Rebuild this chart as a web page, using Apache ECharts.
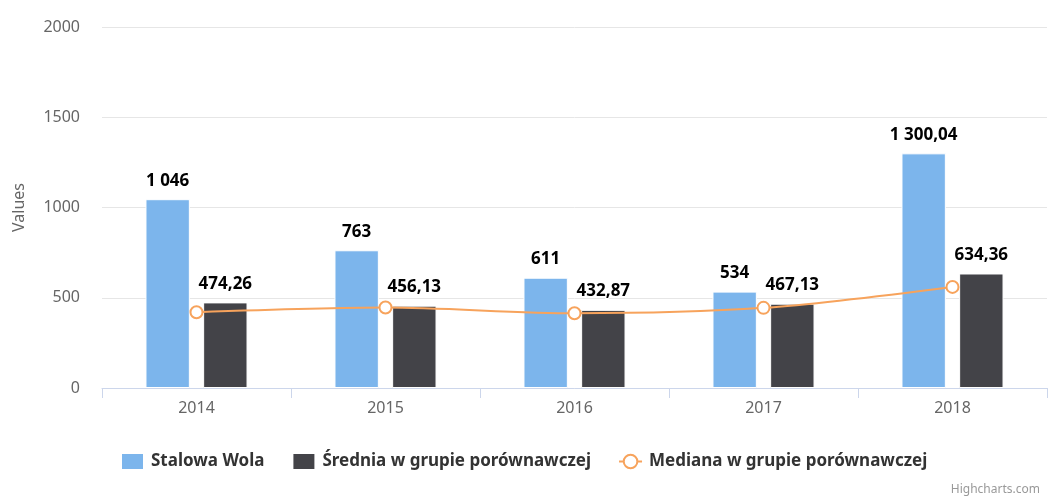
<!DOCTYPE html>
<html>
<head>
<meta charset="utf-8">
<script src="https://cdn.jsdelivr.net/npm/echarts@6/dist/echarts.min.js"></script>
<style>
  html, body { margin: 0; padding: 0; background: #fff; }
  #chart { width: 1048px; height: 497px; }
</style>
</head>
<body>
<div id="chart"></div>
<script>
  var years = ['2014', '2015', '2016', '2017', '2018'];
  var stalowaWola = [1046, 763, 611, 534, 1300.04];
  var srednia = [474.26, 456.13, 432.87, 467.13, 634.36];
  var mediana = [420, 446, 414, 444, 560];
  var yTicks = [0, 500, 1000, 1500, 2000];

  var font = '"Noto Sans", "DejaVu Sans", sans-serif';

  // 1046 -> "1 046", 474.26 -> "474,26"
  function plNumber(v) {
    var parts = String(v).split('.');
    var whole = parts[0].replace(/\B(?=(\d{3})+(?!\d))/g, ' ');
    return parts.length > 1 ? whole + ',' + (parts[1] + '0').slice(0, 2) : whole;
  }

  var barLabel = {
    show: true,
    position: 'top',
    distance: 10,
    fontFamily: font,
    fontSize: 17,
    fontWeight: 'bold',
    color: '#000',
    textBorderColor: '#fff',
    textBorderWidth: 2,
    formatter: function (p) { return plNumber(p.value); }
  };

  var chart = echarts.init(document.getElementById('chart'));
  chart.setOption({
    animation: false,
    textStyle: { fontFamily: font },
    grid: { left: 102, right: 1, top: 27, bottom: 109 },
    legend: {
      left: 120,
      top: 452,
      padding: 0,
      itemWidth: 23,
      itemHeight: 17,
      itemGap: 27,
      textStyle: { fontFamily: font, fontSize: 17, fontWeight: 'bold', color: '#333', padding: [0, 0, 0, 2] },
      data: [
        { name: 'Stalowa Wola', icon: 'rect' },
        { name: 'Średnia w grupie porównawczej', icon: 'rect' },
        { name: 'Mediana w grupie porównawczej' }
      ]
    },
    xAxis: {
      type: 'category',
      data: years,
      axisLine: { lineStyle: { color: '#ccd6eb' } },
      axisTick: { show: true, length: 10, lineStyle: { color: '#ccd6eb' } },
      axisLabel: { color: '#666', fontSize: 16, margin: 12 }
    },
    yAxis: {
      type: 'value',
      min: yTicks[0],
      max: yTicks[yTicks.length - 1],
      interval: 500,
      name: 'Values',
      nameLocation: 'middle',
      nameGap: 75,
      nameTextStyle: { color: '#666', fontSize: 16 },
      axisLabel: { color: '#666', fontSize: 16, margin: 22, formatter: function (v) { return String(v); } },
      splitLine: { lineStyle: { color: '#e6e6e6' } }
    },
    series: [
      {
        name: 'Stalowa Wola',
        type: 'bar',
        data: stalowaWola,
        barGap: '30%',
        barCategoryGap: '46%',
        itemStyle: { color: '#7cb5ec', borderColor: '#fff', borderWidth: 1 },
        label: barLabel
      },
      {
        name: 'Średnia w grupie porównawczej',
        type: 'bar',
        data: srednia,
        itemStyle: { color: '#434348', borderColor: '#fff', borderWidth: 1 },
        label: barLabel
      },
      {
        name: 'Mediana w grupie porównawczej',
        type: 'line',
        data: mediana,
        smooth: 0.3,
        symbol: 'circle',
        symbolSize: 12,
        z: 5,
        lineStyle: { color: '#f7a35c', width: 2 },
        itemStyle: { color: '#fff', borderColor: '#f7a35c', borderWidth: 2 }
      }
    ],
    graphic: [{
      type: 'text',
      right: 8,
      bottom: 1,
      style: { text: 'Highcharts.com', fill: '#999', fontSize: 12, fontFamily: font }
    }]
  });
</script>
</body>
</html>
